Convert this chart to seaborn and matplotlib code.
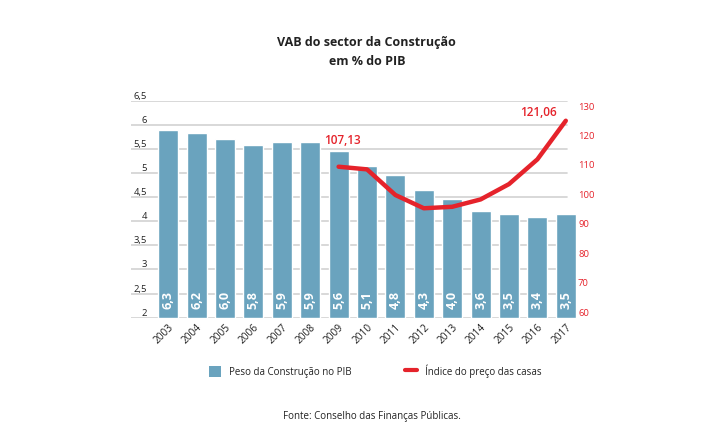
import matplotlib
matplotlib.use("Agg")
import matplotlib.pyplot as plt
import seaborn as sns
import numpy as np
from matplotlib.patches import Patch
from matplotlib.lines import Line2D

# dados
anos = ['2003', '2004', '2005', '2006', '2007', '2008', '2009', '2010',
        '2011', '2012', '2013', '2014', '2015', '2016', '2017']
peso_pib = [6.3, 6.2, 6.0, 5.8, 5.9, 5.9, 5.6, 5.1, 4.8, 4.3, 4.0, 3.6, 3.5, 3.4, 3.5]
peso_labels = ['6,3', '6,2', '6,0', '5,8', '5,9', '5,9', '5,6', '5,1',
               '4,8', '4,3', '4,0', '3,6', '3,5', '3,4', '3,5']
anos_indice = ['2009', '2010', '2011', '2012', '2013', '2014', '2015', '2016', '2017']
indice_precos = [109.4, 108.5, 99.8, 95.3, 95.8, 98.3, 103.5, 111.9, 125.0]
indice_destaques = {'2009': '107,13', '2017': '121,06'}
ticks_esq = ['2', '2,5', '3', '3,5', '4', '4,5', '5', '5,5', '6', '6,5']
ticks_dir = [60, 70, 80, 90, 100, 110, 120, 130]

AZUL = '#6aa3be'
VERMELHO = '#e5232b'
TEXTO = '#222222'

sns.set_theme(style='white')
plt.rcParams['font.family'] = ['Open Sans', 'DejaVu Sans']

fig = plt.figure(figsize=(7.15, 4.45), dpi=100)
ax = fig.add_axes([0.1832, 0.2861, 0.6252, 0.4876])

# grelha (escala do eixo esquerdo)
y_top = 7.3
grid_pos = np.linspace(0, y_top, len(ticks_esq))
for g in grid_pos:
    ax.axhline(g, xmin=0, xmax=0.975, color='#d2d2d2', lw=1.2, zorder=0)

sns.barplot(x=anos, y=peso_pib, color=AZUL, saturation=1, width=0.7, ax=ax)
for p in ax.patches:
    p.set_zorder(2)

for i, lbl in enumerate(peso_labels):
    ax.text(i, 0.28, lbl, rotation=90, ha='center', va='bottom', color='white',
            fontsize=9, fontweight='bold', zorder=3)

ax.set_ylim(0, y_top)
ax.set_xlim(-1.31, 14.43)
ax.set_yticks(grid_pos)
ax.set_yticklabels(ticks_esq)
ax.tick_params(axis='y', length=0, pad=-11.5, labelsize=6.8, labelcolor=TEXTO)
for t in ax.get_yticklabels():
    t.set_verticalalignment('bottom')
ax.tick_params(axis='x', length=0, pad=3, labelsize=7.3, labelcolor=TEXTO)
for t in ax.get_xticklabels():
    t.set_rotation(45)
    t.set_ha('right')
    t.set_rotation_mode('anchor')
ax.set_xlabel('')
ax.set_ylabel('')
sns.despine(ax=ax, left=True, bottom=True)

# índice do preço das casas
ax2 = ax.twinx()
xpos = [anos.index(a) for a in anos_indice]
sns.lineplot(x=xpos, y=indice_precos, color=VERMELHO, lw=3.2, ax=ax2, zorder=4)
ax2.set_ylim(58.17, 131.8)
ax2.set_yticks(ticks_dir)
ax2.set_yticklabels([str(v) for v in ticks_dir])
ax2.tick_params(axis='y', length=0, pad=0, labelsize=6.8, labelcolor=VERMELHO)
for s in ax2.spines.values():
    s.set_visible(False)
ax2.set_xlim(-1.31, 14.43)

offsets = {'2009': (4, 26), '2017': (-27, 8)}
for a, txt in indice_destaques.items():
    i = anos_indice.index(a)
    ax2.annotate(txt, xy=(xpos[i], indice_precos[i]), xytext=offsets[a],
                 textcoords='offset pixels', ha='center', va='center',
                 color=VERMELHO, fontsize=8.5, fontweight='semibold')

# título
fig.text(0.513, 0.883, 'VAB do sector da Construção\nem % do PIB', ha='center', va='center',
         fontsize=9, fontweight='bold', color=TEXTO, linespacing=1.6)

# legenda
handles = [Patch(facecolor=AZUL, edgecolor='none'),
           Line2D([0], [0], color=VERMELHO, lw=3)]
fig.legend(handles, ['Peso da Construção no PIB', 'Índice do preço das casas'],
           loc='center', bbox_to_anchor=(0.525, 0.166), ncol=2, frameon=False,
           fontsize=7, handlelength=1.25, handleheight=1.4, handletextpad=0.8,
           columnspacing=5.5, labelcolor=TEXTO)

fig.text(0.52, 0.0636, 'Fonte: Conselho das Finanças Públicas.', ha='center', va='center',
         fontsize=7, color=TEXTO)

fig.savefig('out.png', dpi=100)
